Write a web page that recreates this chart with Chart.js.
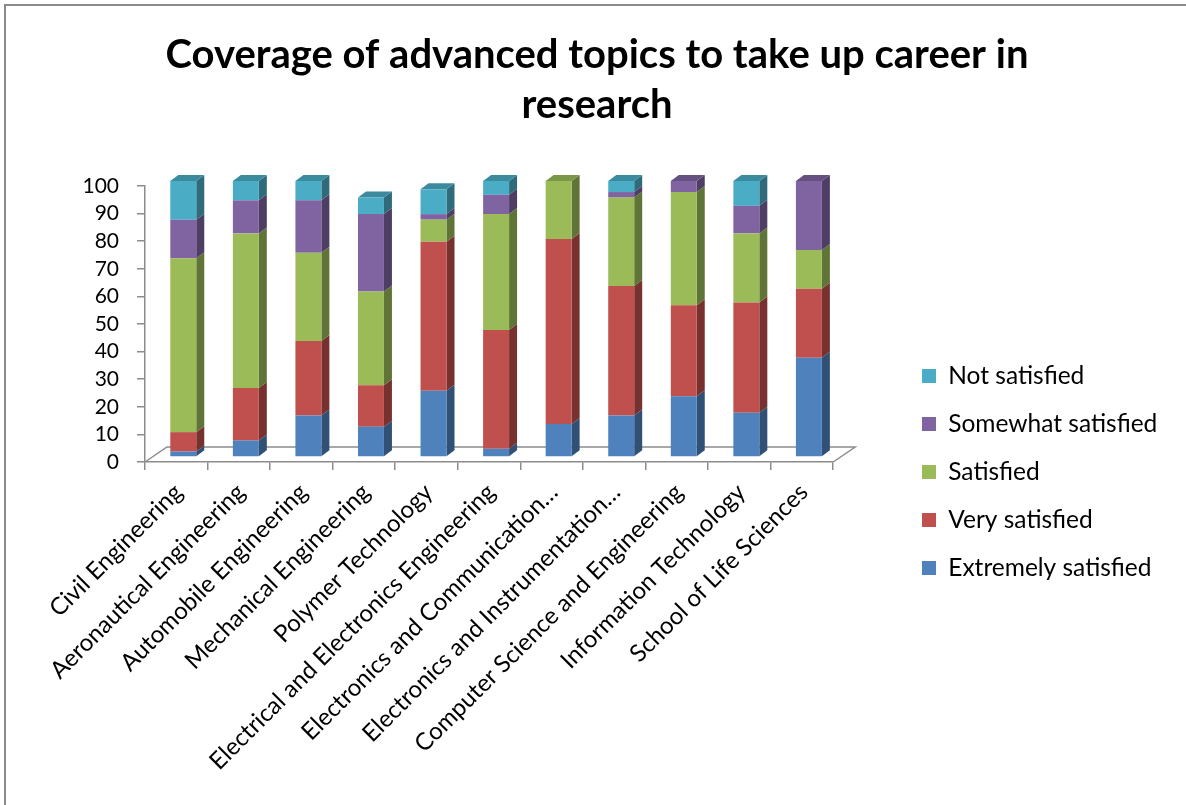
<!DOCTYPE html>
<html><head><meta charset="utf-8">
<script src="https://cdn.jsdelivr.net/npm/chart.js@4.4.1/dist/chart.umd.min.js"></script>
<style>html,body{margin:0;padding:0;background:#fff}#wrap{position:relative;width:1186px;height:805px}</style>
</head><body><div id="wrap"><canvas id="c" width="1186" height="805"></canvas></div>
<script>
const categories = ['Civil Engineering','Aeronautical Engineering','Automobile Engineering','Mechanical Engineering','Polymer Technology','Electrical and Electronics Engineering','Electronics and Communication…','Electronics and Instrumentation…','Computer Science and Engineering','Information Technology','School of Life Sciences'];
const extremelySatisfied = [2, 6, 15, 11, 24, 3, 12, 15, 22, 16, 36];
const verySatisfied      = [7, 19, 27, 15, 54, 43, 67, 47, 33, 40, 25];
const satisfied          = [63, 56, 32, 34, 8, 42, 21, 32, 41, 25, 14];
const somewhatSatisfied  = [14, 12, 19, 28, 2, 7, 0, 2, 4, 10, 25];
const notSatisfied       = [14, 7, 7, 6, 9, 5, 0, 4, 0, 9, 0];
const seriesNames = ['Extremely satisfied','Very satisfied','Satisfied','Somewhat satisfied','Not satisfied'];
const seriesColors = ['#4F81BD','#C0504D','#9BBB59','#8064A2','#4BACC6'];
const yTickValues = [0,10,20,30,40,50,60,70,80,90,100];
const titleLines = ['Coverage of advanced topics to take up career in','research'];

const FONT = 'Lato';
const AXIS = '#8c8c8c';
const DX = 8, DY = 6;            // bar depth
const FLOOR_DX = 22, FLOOR_DY = 15;
const SHIFT_X = 7, SHIFT_Y = -5;
const LEG_FONT = 24.5, LEG_PAD = 23.5;

function shade(hex, f){
  const n = parseInt(hex.slice(1),16);
  const r = Math.round(((n>>16)&255)*f), g = Math.round(((n>>8)&255)*f), b = Math.round((n&255)*f);
  return `rgb(${r},${g},${b})`;
}

const frame = {
  id:'frame',
  afterDraw(chart){
    const ctx = chart.ctx;
    ctx.save();
    ctx.strokeStyle = '#8a8a8a'; ctx.lineWidth = 2;
    ctx.beginPath(); ctx.moveTo(5, 805); ctx.lineTo(5, 5); ctx.lineTo(1186, 5); ctx.stroke();
    ctx.restore();
  }
};

const bar3d = {
  id:'bar3d',
  beforeDatasetsDraw(chart){
    const {ctx, chartArea:a, scales:{y}} = chart;
    const y0 = y.getPixelForValue(0);
    ctx.save();
    ctx.strokeStyle = AXIS; ctx.lineWidth = 1.5;
    ctx.beginPath();
    ctx.moveTo(a.left, y0); ctx.lineTo(a.left+FLOOR_DX, y0-FLOOR_DY);
    ctx.lineTo(a.right+FLOOR_DX, y0-FLOOR_DY); ctx.lineTo(a.right, y0);
    ctx.stroke();
    ctx.restore();
    ctx.save();
    ctx.translate(SHIFT_X, SHIFT_Y);
    const ds = chart.data.datasets;
    chart.data.labels.forEach((_, i) => {
      let topIdx = -1;
      ds.forEach((d, k) => { if (d.data[i] > 0) topIdx = k; });
      ds.forEach((d, k) => {
        if (!(d.data[i] > 0)) return;
        const el = chart.getDatasetMeta(k).data[i];
        const p = el.getProps(['x','y','base','width'], true);
        const l = p.x - p.width/2, r = p.x + p.width/2, top = p.y, base = p.base;
        ctx.fillStyle = shade(d.backgroundColor, 0.62);
        ctx.beginPath(); ctx.moveTo(r, base); ctx.lineTo(r, top); ctx.lineTo(r+DX, top-DY); ctx.lineTo(r+DX, base-DY); ctx.closePath(); ctx.fill();
        if (k === topIdx){
          ctx.fillStyle = shade(d.backgroundColor, 0.8);
          ctx.beginPath(); ctx.moveTo(l, top); ctx.lineTo(r, top); ctx.lineTo(r+DX, top-DY); ctx.lineTo(l+DX, top-DY); ctx.closePath(); ctx.fill();
        }
      });
    });
  },
  afterDatasetsDraw(chart){ chart.ctx.restore(); }
};

const placeBoxes = {
  id:'placeBoxes',
  afterLayout(chart){
    const lg = chart.legend;
    if (lg){
      const w = lg.width, h = lg.height;
      const left = 922 - LEG_PAD, top = 376 - LEG_PAD - LEG_FONT/2;
      lg.left = left; lg.right = left + w; lg.top = top; lg.bottom = top + h;
    }
    const tb = chart.titleBlock;
    if (tb){ tb.left = 0; tb.right = 1194; tb.width = 1194; }
  }
};

const seriesData = [extremelySatisfied, verySatisfied, satisfied, somewhatSatisfied, notSatisfied];

new Chart(document.getElementById('c'), {
  type:'bar',
  data:{
    labels: categories,
    datasets: seriesNames.map((name, k) => ({
      label: name, data: seriesData[k], backgroundColor: seriesColors[k],
      borderWidth: 0, categoryPercentage: 1, barPercentage: 0.415, clip: false
    }))
  },
  options:{
    responsive:false, animation:false, devicePixelRatio:1,
    layout:{ padding:{ left:0, right:84, top:0, bottom:0 } },
    plugins:{
      tooltip:{enabled:false},
      title:{ display:true, text:titleLines, color:'#000',
        font:{ family:FONT, size:40, weight:'bold', lineHeight:50/40 },
        padding:{ top:30, bottom:56 } },
      legend:{ display:true, position:'right', align:'start', reverse:true,
        labels:{ color:'#000', font:{ family:FONT, size:LEG_FONT }, boxWidth:14, boxHeight:14, padding:LEG_PAD } }
    },
    scales:{
      x:{ stacked:true, offset:true,
        grid:{ display:true, drawOnChartArea:false, drawTicks:true, tickLength:8, color:AXIS, lineWidth:1.5, offset:true },
        border:{ display:true, color:AXIS, width:1.5 },
        ticks:{ color:'#000', font:{ family:FONT, size:24 }, minRotation:45, maxRotation:45, autoSkip:false, padding:8, labelOffset:2 },
        afterFit(s){ s.height = 343; }
      },
      y:{ stacked:true, min:0, max:100,
        afterBuildTicks(s){ s.ticks = yTickValues.map(v => ({value:v})); },
        grid:{ display:true, drawOnChartArea:false, drawTicks:true, tickLength:8, color:AXIS, lineWidth:1.5 },
        border:{ display:true, color:AXIS, width:1.5 },
        ticks:{ color:'#000', font:{ family:FONT, size:21 }, padding:18, autoSkip:false },
        afterFit(s){ s.width = 145; }
      }
    }
  },
  plugins:[frame, bar3d, placeBoxes]
});
</script></body></html>
